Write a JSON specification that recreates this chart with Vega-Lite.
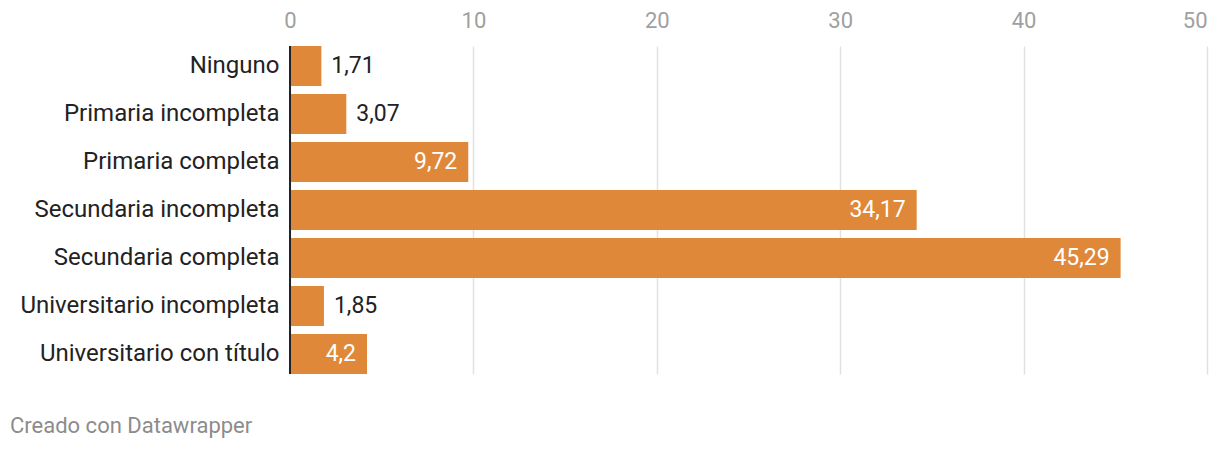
{
  "$schema": "https://vega.github.io/schema/vega-lite/v6.json",
  "width": 917,
  "height": 328,
  "autosize": {"type": "none"},
  "padding": {"left": 290, "top": 46, "right": 13, "bottom": 76},
  "background": "white",
  "config": {
    "font": "Roboto",
    "view": {"stroke": null},
    "locale": {"number": {"decimal": ",", "thousands": ".", "grouping": [3], "currency": ["", " €"]}}
  },
  "title": {
    "text": "Creado con Datawrapper",
    "orient": "bottom",
    "anchor": "start",
    "frame": "group",
    "dx": -280,
    "offset": 41,
    "fontSize": 22,
    "fontWeight": "normal",
    "color": "#8c8c8c",
    "font": "Roboto"
  },
  "data": {
    "values": [
      {"nivel": "Ninguno", "valor": 1.71},
      {"nivel": "Primaria incompleta", "valor": 3.07},
      {"nivel": "Primaria completa", "valor": 9.72},
      {"nivel": "Secundaria incompleta", "valor": 34.17},
      {"nivel": "Secundaria completa", "valor": 45.29},
      {"nivel": "Universitario incompleta", "valor": 1.85},
      {"nivel": "Universitario con título", "valor": 4.2}
    ]
  },
  "encoding": {
    "y": {
      "field": "nivel",
      "type": "nominal",
      "sort": null,
      "scale": {"paddingInner": 0.1667, "paddingOuter": 0},
      "axis": {
        "title": null,
        "ticks": false,
        "domain": false,
        "labelFontSize": 24,
        "labelColor": "#222222",
        "labelPadding": 11,
        "labelLimit": 400,
        "labelFont": "Roboto"
      }
    },
    "x": {
      "field": "valor",
      "type": "quantitative",
      "scale": {"domain": [0, 50], "nice": false},
      "axis": {
        "orient": "top",
        "title": null,
        "values": [0, 10, 20, 30, 40, 50],
        "ticks": false,
        "domain": false,
        "grid": true,
        "gridColor": "#e1e1e1",
        "gridWidth": 1.5,
        "labelFontSize": 22,
        "labelColor": "#a0a0a0",
        "labelPadding": 14,
        "labelFont": "Roboto",
        "labelFlush": false,
        "labelAlign": {"condition": {"test": "datum.value === 50", "value": "right"}, "value": "center"}
      }
    }
  },
  "layer": [
    {
      "mark": {"type": "bar", "color": "#E0883A", "cornerRadius": 0}
    },
    {
      "mark": {"type": "rule", "color": "#222222", "strokeWidth": 2},
      "encoding": {
        "x": {"datum": 0, "type": "quantitative"},
        "y": null
      }
    },
    {
      "transform": [{"filter": "datum.valor >= 4"}],
      "mark": {"type": "text", "fontSize": 23, "font": "Roboto", "baseline": "middle", "align": "right", "dx": -11, "color": "#ffffff"},
      "encoding": {
        "text": {"field": "valor", "type": "quantitative", "format": "~g"}
      }
    },
    {
      "transform": [{"filter": "datum.valor < 4"}],
      "mark": {"type": "text", "fontSize": 23, "font": "Roboto", "baseline": "middle", "align": "left", "dx": 10, "color": "#222222"},
      "encoding": {
        "text": {"field": "valor", "type": "quantitative", "format": "~g"}
      }
    }
  ]
}
